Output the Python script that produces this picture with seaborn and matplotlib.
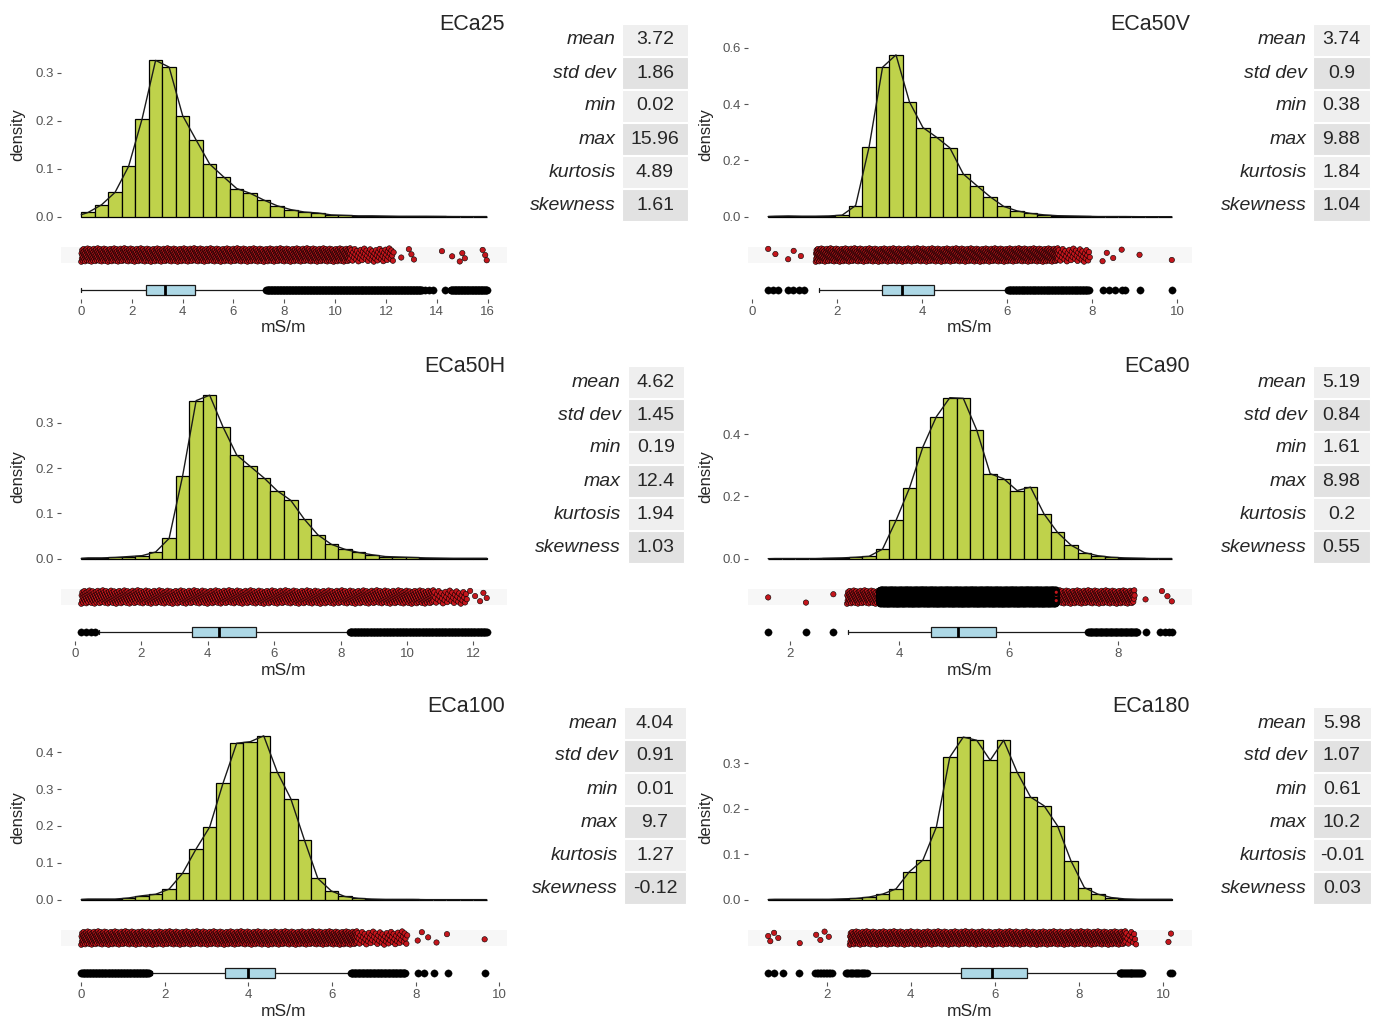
import numpy as np
import pandas as pd
import matplotlib
matplotlib.use("Agg")
import matplotlib.pyplot as plt
import seaborn as sns
from matplotlib.patches import Rectangle

sns.set_theme(style="white")
plt.rcParams["font.family"] = ["Liberation Sans", "DejaVu Sans"]

# ---------------------------------------------------------------- data
names = ["ECa25", "ECa50V", "ECa50H", "ECa90", "ECa100", "ECa180"]
stat_labels = ["mean", "std dev", "min", "max", "kurtosis", "skewness"]

stats_eca25 = ["3.72", "1.86", "0.02", "15.96", "4.89", "1.61"]
stats_eca50v = ["3.74", "0.9", "0.38", "9.88", "1.84", "1.04"]
stats_eca50h = ["4.62", "1.45", "0.19", "12.4", "1.94", "1.03"]
stats_eca90 = ["5.19", "0.84", "1.61", "8.98", "0.2", "0.55"]
stats_eca100 = ["4.04", "0.91", "0.01", "9.7", "1.27", "-0.12"]
stats_eca180 = ["5.98", "1.07", "0.61", "10.2", "-0.01", "0.03"]

# histogram densities, 30 equal bins from min to max
dens_eca25 = [0.009, 0.025, 0.051, 0.105, 0.204, 0.326, 0.312, 0.211, 0.160, 0.110,
              0.084, 0.059, 0.049, 0.035, 0.023, 0.015, 0.010, 0.008, 0.004, 0.003,
              0.002, 0.002, 0.0015, 0.001, 0.001, 0.001, 0.0008, 0.0006, 0.0005, 0.0005]
dens_eca50v = [0.002, 0.003, 0.002, 0.002, 0.003, 0.006, 0.040, 0.248, 0.531, 0.575,
               0.408, 0.317, 0.283, 0.245, 0.152, 0.111, 0.071, 0.037, 0.021, 0.012,
               0.007, 0.004, 0.003, 0.002, 0.001, 0.001, 0.001, 0.0005, 0.0005, 0.0005]
dens_eca50h = [0.002, 0.002, 0.003, 0.005, 0.007, 0.015, 0.045, 0.183, 0.349, 0.361,
               0.290, 0.229, 0.204, 0.179, 0.150, 0.129, 0.0875, 0.053, 0.032, 0.021,
               0.014, 0.009, 0.005, 0.004, 0.003, 0.002, 0.0015, 0.001, 0.001, 0.001]
dens_eca90 = [0.001, 0.001, 0.001, 0.001, 0.002, 0.003, 0.005, 0.008, 0.031, 0.123,
              0.227, 0.359, 0.456, 0.517, 0.515, 0.413, 0.273, 0.257, 0.219, 0.230,
              0.144, 0.085, 0.044, 0.020, 0.010, 0.005, 0.003, 0.002, 0.001, 0.001]
dens_eca100 = [0.002, 0.002, 0.002, 0.005, 0.011, 0.015, 0.029, 0.072, 0.138, 0.197,
               0.317, 0.424, 0.428, 0.444, 0.346, 0.274, 0.163, 0.058, 0.024, 0.009,
               0.004, 0.002, 0.001, 0.001, 0.001, 0.0005, 0.0005, 0.0005, 0.0005, 0.0005]
dens_eca180 = [0.001, 0.001, 0.001, 0.001, 0.001, 0.002, 0.003, 0.006, 0.0125, 0.024,
               0.062, 0.0875, 0.160, 0.314, 0.358, 0.351, 0.307, 0.351, 0.281, 0.226,
               0.207, 0.163, 0.086, 0.027, 0.0125, 0.005, 0.002, 0.001, 0.001, 0.001]

# peak of the density curve (sets the panel height)
curve_peak = [0.341, 0.581, 0.361, 0.525, 0.443, 0.360]

# box plot: lower whisker, q1, median, q3, upper whisker
box_eca25 = [0.02, 2.57, 3.33, 4.50, 7.27]
box_eca50v = [1.57, 3.07, 3.53, 4.29, 6.00]
box_eca50h = [0.72, 3.53, 4.33, 5.45, 8.25]
box_eca90 = [3.06, 4.58, 5.08, 5.77, 7.43]
box_eca100 = [1.70, 3.45, 4.00, 4.64, 6.40]
box_eca180 = [2.99, 5.19, 5.92, 6.75, 8.93]

# outliers: runs of overlapping values (start, end, count) and single values
out_runs_eca25 = [(7.30, 13.40, 260), (14.55, 15.96, 60)]
out_pts_eca25 = [13.55, 13.7, 13.85, 14.3]
out_runs_eca50v = [(6.03, 7.92, 110)]
out_pts_eca50v = [0.38, 0.5, 0.62, 0.85, 0.97, 1.1, 1.22, 8.25, 8.4, 8.55, 8.7, 8.78, 9.12, 9.88]
out_runs_eca50h = [(8.28, 12.4, 180)]
out_pts_eca50h = [0.19, 0.33, 0.47, 0.6]
out_runs_eca90 = [(7.45, 8.35, 60)]
out_pts_eca90 = [1.61, 2.3, 2.79, 8.51, 8.76, 8.85, 8.93, 8.98]
out_runs_eca100 = [(0.01, 1.62, 90), (6.45, 7.75, 70)]
out_pts_eca100 = [8.05, 8.2, 8.45, 8.77, 9.65]
out_runs_eca180 = [(1.73, 2.12, 12), (2.46, 2.95, 18), (8.96, 9.48, 25)]
out_pts_eca180 = [0.61, 0.75, 0.97, 1.35, 10.15, 10.2]

# jittered raw values: runs (start, end, count) and single values
strip_runs_eca25 = [(0.02, 10.6, 900), (10.6, 12.3, 60)]
strip_pts_eca25 = [12.6, 12.9, 13.0, 13.1, 14.2, 14.6, 14.9, 15.0, 15.1, 15.8, 15.9, 15.96]
strip_runs_eca50v = [(1.5, 7.2, 900), (7.2, 7.95, 40)]
strip_pts_eca50v = [0.38, 0.55, 0.85, 0.98, 1.15, 8.25, 8.35, 8.5, 8.7, 9.12, 9.88]
strip_runs_eca50h = [(0.19, 10.8, 900), (10.8, 11.8, 40)]
strip_pts_eca50h = [11.9, 12.05, 12.2, 12.3, 12.4]
strip_runs_eca90 = [(3.05, 8.3, 900), (3.65, 6.87, 7000)]
strip_pts_eca90 = [1.61, 2.3, 2.8, 8.5, 8.8, 8.9, 8.98]
strip_runs_eca100 = [(0.01, 6.6, 900), (6.6, 7.8, 60)]
strip_pts_eca100 = [8.05, 8.15, 8.3, 8.5, 8.75, 9.65]
strip_runs_eca180 = [(2.55, 9.1, 900), (9.1, 9.35, 12)]
strip_pts_eca180 = [0.61, 0.66, 0.75, 0.85, 1.36, 1.75, 1.85, 1.95, 2.05, 10.12, 10.18]

xticks_list = [list(range(0, 17, 2)), list(range(0, 11, 2)), list(range(0, 13, 2)),
               [2, 4, 6, 8], list(range(0, 11, 2)), [2, 4, 6, 8, 10]]
yticks_list = [[0, 0.1, 0.2, 0.3], [0, 0.2, 0.4, 0.6], [0, 0.1, 0.2, 0.3],
               [0, 0.2, 0.4], [0, 0.1, 0.2, 0.3, 0.4], [0, 0.1, 0.2, 0.3]]

# ---------------------------------------------------------------- layout (pixels)
W, H = 1379, 1021
fig = plt.figure(figsize=(W / 100, H / 100), dpi=100)
fig.patch.set_facecolor("white")

col_x = [(61, 507), (748, 1192)]
ylab_x = [18, 706]
row_dy = [0, 342, 683]
# table geometry per panel: label right edge, value cell left/right
table_geo = [(616, 622, 688), (1307, 1313, 1370), (621, 628, 684),
             (1307, 1313, 1370), (618, 624, 686), (1307, 1313, 1371)]

FILL = "#bfd24b"
BOXFILL = "#add8e6"
RED = "#c4161c"
GREY = "#555555"
TXT = "#262626"


def px_axes(x0, y0, x1, y1):
    return fig.add_axes([x0 / W, 1 - y1 / H, (x1 - x0) / W, (y1 - y0) / H])


def ftext(x, y, s, **kw):
    fig.text(x / W, 1 - y / H, s, **kw)


def expand_runs(runs, pts):
    xs = [np.linspace(a, b, n) for a, b, n in runs]
    xs.append(np.asarray(pts, dtype=float))
    return np.concatenate(xs)


def run_edge_widths(runs, pts, span):
    # heavily overplotted runs show mostly the black marker outlines
    widths = []
    for a, b, n in runs:
        per_unit = n / max(b - a, 1e-9) * span / 400.0
        widths.append(np.full(n, 1.6 if per_unit > 8 else 0.4))
    widths.append(np.full(len(pts), 0.4))
    return np.concatenate(widths)


all_stats = [stats_eca25, stats_eca50v, stats_eca50h, stats_eca90, stats_eca100, stats_eca180]
all_dens = [dens_eca25, dens_eca50v, dens_eca50h, dens_eca90, dens_eca100, dens_eca180]
all_box = [box_eca25, box_eca50v, box_eca50h, box_eca90, box_eca100, box_eca180]
all_out = [(out_runs_eca25, out_pts_eca25), (out_runs_eca50v, out_pts_eca50v),
           (out_runs_eca50h, out_pts_eca50h), (out_runs_eca90, out_pts_eca90),
           (out_runs_eca100, out_pts_eca100), (out_runs_eca180, out_pts_eca180)]
all_strip = [(strip_runs_eca25, strip_pts_eca25), (strip_runs_eca50v, strip_pts_eca50v),
             (strip_runs_eca50h, strip_pts_eca50h), (strip_runs_eca90, strip_pts_eca90),
             (strip_runs_eca100, strip_pts_eca100), (strip_runs_eca180, strip_pts_eca180)]

for i, name in enumerate(names):
    col, row = i % 2, i // 2
    dy = row_dy[row]
    x0, x1 = col_x[col]
    vals = all_stats[i]
    vmin, vmax = float(vals[2]), float(vals[3])
    span = vmax - vmin
    xlim = (vmin - 0.05 * span, vmax + 0.05 * span)

    # ---- histogram + density curve
    ax = px_axes(x0, 45 + dy, x1, 225 + dy)
    edges = np.linspace(vmin, vmax, 31)
    centers = (edges[:-1] + edges[1:]) / 2
    dens = np.asarray(all_dens[i], dtype=float)
    hist_df = pd.DataFrame({"value": centers, "density": dens})
    sns.histplot(data=hist_df, x="value", weights="density", bins=list(edges),
                 stat="count", ax=ax, color=FILL, edgecolor="black",
                 linewidth=0.9, alpha=1)
    curve_df = pd.DataFrame({
        "value": np.concatenate([[vmin], centers, [vmax]]),
        "density": np.concatenate([[dens[0] * 0.5], dens, [dens[-1]]]),
    })
    sns.lineplot(data=curve_df, x="value", y="density", ax=ax, color="#1a1a1a",
                 linewidth=1.0)
    top = curve_peak[i]
    ax.set_xlim(*xlim)
    ax.set_ylim(-0.05 * top, 1.05 * top)
    ax.set_xticks([])
    ax.set_yticks(yticks_list[i])
    ax.set_yticklabels([f"{t:.1f}" for t in yticks_list[i]])
    ax.tick_params(axis="y", left=True, length=3, width=0.8, color=GREY,
                   labelcolor=GREY, labelsize=9.5, pad=2)
    ax.set_xlabel("")
    ax.set_ylabel("")
    for s in ax.spines.values():
        s.set_visible(False)
    ax.set_facecolor("none")

    ftext(ylab_x[col], 135 + dy, "density", rotation=90, ha="center", va="center",
          fontsize=12, color=TXT)
    ftext(x1 - 2, 24 + dy, name, ha="right", va="center", fontsize=15.5, color=TXT)

    # ---- jittered strip
    axs = px_axes(x0, 240 + dy, x1, 270 + dy)
    runs, pts = all_strip[i]
    sx = expand_runs(runs, pts)
    lw = run_edge_widths(runs, pts, span)
    k = np.arange(len(sx))
    sy = ((k * 0.6180339887) % 1.0 - 0.5) * 0.9
    axs.axhspan(-0.55, 0.55, color="#f7f7f7", lw=0, zorder=0)
    sns.scatterplot(x=sx, y=sy, ax=axs, s=15, color=RED, edgecolor="black",
                    linewidth=lw, zorder=2, legend=False)
    axs.set_xlim(*xlim)
    axs.set_ylim(-1, 1)
    axs.set_xticks([])
    axs.set_yticks([])
    axs.set_xlabel("")
    axs.set_ylabel("")
    for s in axs.spines.values():
        s.set_visible(False)
    axs.set_facecolor("none")

    # ---- box plot
    axb = px_axes(x0, 281 + dy, x1, 299 + dy)
    lo, q1, med, q3, hi = all_box[i]
    axb.bxp([dict(whislo=lo, q1=q1, med=med, q3=q3, whishi=hi, fliers=[])],
            positions=[0], widths=1.15, orientation="horizontal", patch_artist=True,
            showfliers=False, capwidths=0.55,
            boxprops=dict(facecolor=BOXFILL, edgecolor="#1a1a1a", linewidth=0.9),
            medianprops=dict(color="black", linewidth=2.0),
            whiskerprops=dict(color="#1a1a1a", linewidth=0.9),
            capprops=dict(color="#1a1a1a", linewidth=0.9))
    ox = expand_runs(*all_out[i])
    sns.scatterplot(x=ox, y=np.zeros_like(ox), ax=axb, s=28, color="black",
                    edgecolor="black", linewidth=0.2, zorder=3, legend=False)
    axb.set_xlim(*xlim)
    axb.set_ylim(-1, 1)
    axb.set_yticks([])
    axb.set_xticks(xticks_list[i])
    axb.set_xticklabels([str(t) for t in xticks_list[i]])
    axb.tick_params(axis="x", bottom=True, length=3, width=0.8, color=GREY,
                    labelcolor=GREY, labelsize=9.5, pad=2)
    axb.set_xlabel("")
    axb.set_ylabel("")
    for s in axb.spines.values():
        s.set_visible(False)
    axb.set_facecolor("none")

    ftext((x0 + x1) / 2, 328 + dy, "mS/m", ha="center", va="center", fontsize=12.5,
          color=TXT)

    # ---- summary table
    lab_r, cell_l, cell_r = table_geo[i]
    for r, (lab, val) in enumerate(zip(stat_labels, vals)):
        yc = 40 + dy + r * 33
        shade = "#efefef" if r % 2 == 0 else "#e2e2e2"
        fig.patches.append(Rectangle((cell_l / W, 1 - (yc + 16) / H),
                                     (cell_r - cell_l) / W, 32 / H,
                                     transform=fig.transFigure, facecolor=shade,
                                     edgecolor="white", linewidth=0.8, zorder=0))
        ftext(lab_r, yc, lab, ha="right", va="center", fontsize=14, style="italic",
              color=TXT)
        ftext((cell_l + cell_r) / 2, yc, val, ha="center", va="center", fontsize=14,
              color=TXT)

fig.savefig("out.png", dpi=100, facecolor="white")
